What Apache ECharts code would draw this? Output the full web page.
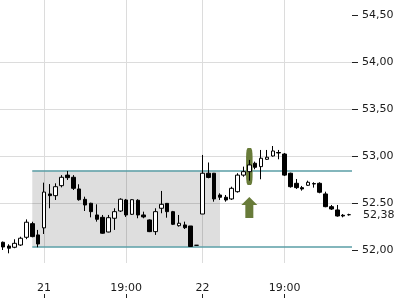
<!DOCTYPE html>
<html><head><meta charset="utf-8">
<script src="https://cdn.jsdelivr.net/npm/echarts@6/dist/echarts.min.js"></script>
<style>html,body{margin:0;padding:0;background:#fff}#c{width:400px;height:300px}</style>
</head><body><div id="c"></div>
<script>
// ---- data ----
const categories = ['1','2','3','4','5','6','7','8','9','10','11','12','13','14','15','16','17','18','19','20',
  '21','22','23','24','25','26','27','28','29','30','31','32','33','34','35','36','37','38','39','40',
  '41','42','43','44','45','46','47','48','49','50','51','52','53','54','55','56','57','58','59','60'];
const opens  = [52.087,52.047,52.034,52.058,52.14,52.285,52.165,52.24,52.60,52.582,
  52.688,52.80,52.777,52.653,52.543,52.501,52.377,52.352,52.196,52.342,
  52.419,52.536,52.384,52.533,52.377,52.324,52.20,52.448,52.50,52.412,
  52.263,52.271,52.26,52.055,52.387,52.82,52.82,52.589,52.565,52.547,
  52.624,52.80,52.837,52.926,52.89,52.968,53.003,53.04,53.024,52.82,
  52.713,52.667,52.692,52.71,52.713,52.60,52.465,52.43,52.374,52.38];
const closes = [52.037,52.024,52.076,52.13,52.30,52.147,52.069,52.62,52.582,52.677,
  52.777,52.773,52.66,52.539,52.483,52.412,52.331,52.183,52.348,52.412,
  52.544,52.377,52.539,52.377,52.356,52.20,52.412,52.49,52.412,52.278,
  52.289,52.242,52.042,52.055,52.82,52.775,52.547,52.565,52.536,52.66,
  52.80,52.837,52.908,52.883,52.979,52.99,53.056,53.035,52.80,52.677,
  52.667,52.653,52.724,52.706,52.618,52.465,52.44,52.366,52.366,52.38];
const lows   = [52.005,51.97,52.024,52.048,52.12,52.14,52.034,52.175,52.448,52.536,
  52.67,52.748,52.642,52.529,52.419,52.352,52.306,52.178,52.193,52.218,
  52.409,52.356,52.377,52.342,52.342,52.195,52.165,52.395,52.348,52.27,
  52.253,52.228,52.04,52.053,52.387,52.766,52.518,52.536,52.518,52.536,
  52.614,52.783,52.741,52.862,52.756,52.961,52.996,52.968,52.79,52.667,
  52.653,52.635,52.685,52.667,52.607,52.459,52.43,52.359,52.352,52.37];
const highs  = [52.095,52.066,52.119,52.146,52.33,52.305,52.218,52.72,52.705,52.713,
  52.80,52.844,52.80,52.703,52.571,52.507,52.49,52.377,52.377,52.448,
  52.554,52.547,52.544,52.544,52.412,52.33,52.448,52.632,52.504,52.42,
  52.377,52.306,52.26,52.057,53.014,52.934,52.823,52.607,52.589,52.677,
  52.82,52.89,52.961,52.943,53.067,53.067,53.109,53.067,53.035,52.826,
  52.759,52.685,52.741,52.724,52.724,52.624,52.483,52.483,52.387,52.39];
const xTickIndex = [7, 21, 34, 48];
const xTickText  = ['21', '19:00', '22', '19:00'];
const yTickValues = [52, 52.5, 53, 53.5, 54, 54.5];
const yTickText   = ['52,00', '52.50', '53,00', '53,50', '54,00', '54,50'];
const lastPrice = 52.38;
const lastPriceText = '52,38';
const rangeTop = 52.85, rangeBottom = 52.04;
const rangeStartIndex = 5, rangeEndIndex = 37;
const signalIndex = 42;
const signalBarLow = 52.70, signalBarHigh = 53.085;
const arrowLow = 52.345, arrowHigh = 52.568;
const yMin = 51.867, yMax = 54.659;

// ---- chart ----
const FONT = 'DejaVu Sans';
const n = categories.length;
const candles = opens.map((o, i) => [o, closes[i], lows[i], highs[i]]);
const chart = echarts.init(document.getElementById('c'), null, {renderer: 'canvas'});
const slot = i => i + 0.5;

chart.setOption({
  animation: false,
  backgroundColor: '#fff',
  grid: {left: 0, right: 48, top: 0, bottom: 37, containLabel: false},
  xAxis: [{
    type: 'category', data: categories, boundaryGap: true, offset: 35,
    axisLine: {show: false, onZero: false},
    axisTick: {show: true, inside: true, length: 4, alignWithLabel: true,
      interval: (i) => xTickIndex.includes(i), lineStyle: {color: '#222'}},
    axisLabel: {inside: true, margin: 4, fontFamily: FONT, fontSize: 11, color: '#1a1a1a',
      interval: (i) => xTickIndex.includes(i),
      formatter: (v, i) => { const k = xTickIndex.indexOf(i); return k >= 0 ? xTickText[k] : ''; }},
    splitLine: {show: false}
  }, {
    type: 'value', min: 0, max: n, show: false, splitLine: {show: false},
    axisLine: {onZero: false}
  }],
  yAxis: {
    type: 'value', position: 'right', min: yMin, max: yMax, scale: true,
    axisLine: {show: false, onZero: false},
    axisTick: {show: true, length: 6, customValues: yTickValues, lineStyle: {color: '#222'}},
    axisLabel: {margin: 10, fontFamily: FONT, fontSize: 11, color: '#1a1a1a',
      customValues: yTickValues,
      formatter: (v) => { const k = yTickValues.findIndex(t => Math.abs(t - v) < 1e-6); return k >= 0 ? yTickText[k] : ''; }},
    splitLine: {show: true, showMinLine: false, showMaxLine: false, lineStyle: {color: '#dcdcdc', width: 1}}
  },
  series: [{
    type: 'line', xAxisIndex: 1, data: [], silent: true, z: 0,
    markLine: {silent: true, symbol: ['none', 'none'], z: 0, label: {show: false},
      lineStyle: {color: '#dcdcdc', type: 'solid', width: 1},
      data: xTickIndex.map(i => ({xAxis: slot(i)}))}
  }, {
    type: 'line', xAxisIndex: 1, data: [], silent: true, z: 1,
    markArea: {silent: true, z: 1, itemStyle: {color: 'rgba(0,0,0,0.13)'},
      data: [[{coord: [slot(rangeStartIndex), rangeBottom]}, {coord: [slot(rangeEndIndex), rangeTop]}]]},
    markLine: {silent: true, symbol: ['none', 'none'], z: 1, label: {show: false},
      lineStyle: {color: '#5a9ea6', type: 'solid', width: 1.5},
      data: [
        [{coord: [slot(rangeStartIndex), rangeTop]}, {coord: [n, rangeTop]}],
        [{coord: [slot(rangeStartIndex), rangeBottom]}, {coord: [n, rangeBottom]}]
      ]},
    markPoint: {silent: true, z: 1, label: {show: false},
      data: [
        {coord: [slot(signalIndex), (signalBarLow + signalBarHigh) / 2], symbol: 'roundRect',
          symbolSize: [6.5, 37], itemStyle: {color: '#687b39'}},
        {coord: [slot(signalIndex), (arrowLow + arrowHigh) / 2],
          symbol: 'path://M8,0 L16,8 L12,8 L12,21 L4,21 L4,8 L0,8 Z',
          symbolSize: [16, 21], symbolKeepAspect: false, itemStyle: {color: '#687b39'}}
      ]}
  }, {
    type: 'line', xAxisIndex: 1, data: [], silent: true, z: 4,
    markLine: {silent: true, symbol: ['none', 'none'], z: 4,
      lineStyle: {color: 'rgba(0,0,0,0)', width: 0},
      label: {show: true, position: 'end', distance: 11, formatter: lastPriceText,
        fontFamily: FONT, fontSize: 11, color: '#1a1a1a'},
      data: [{yAxis: lastPrice}]}
  }, {
    type: 'candlestick', data: candles, z: 3, barWidth: 4,
    itemStyle: {color: '#ffffff', color0: '#000000', borderColor: '#000000',
      borderColor0: '#000000', borderColorDoji: '#000000', borderWidth: 1}
  }]
});
</script></body></html>
